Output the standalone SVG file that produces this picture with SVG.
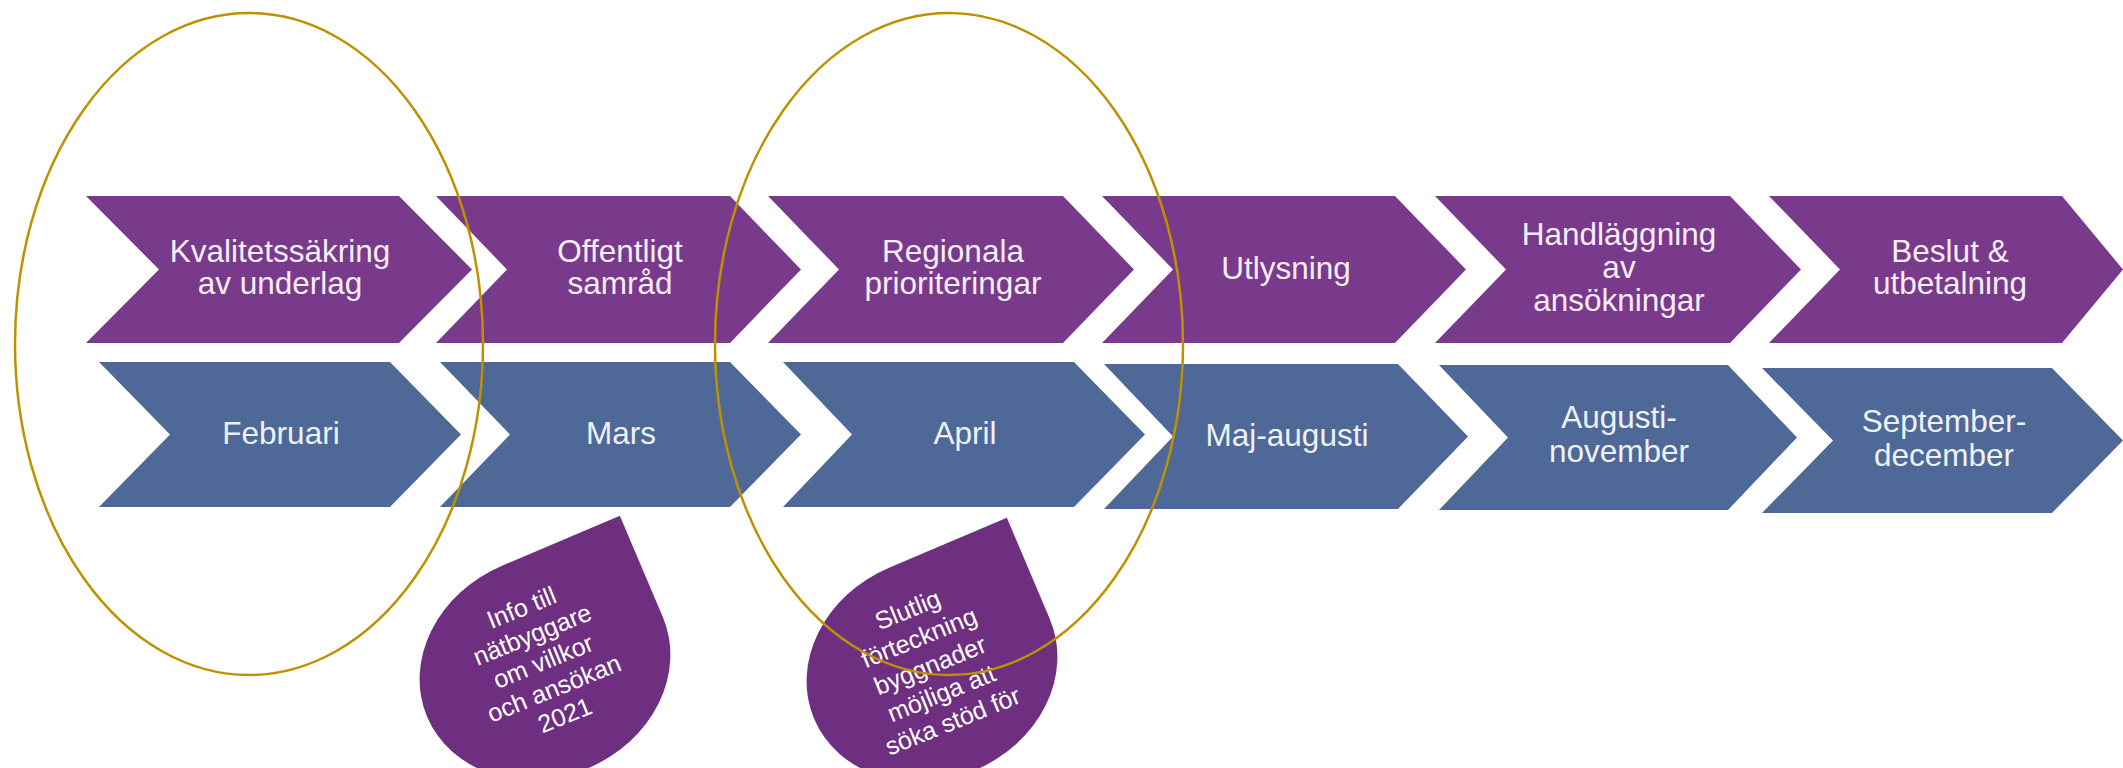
<svg xmlns="http://www.w3.org/2000/svg" width="2123" height="768" viewBox="0 0 2123 768">
<defs>
<style>
.p{fill:#7A3A8C}
.b{fill:#4E6898}
.d{fill:#6F2F80}
.t{font-family:"Liberation Sans",Arial,sans-serif;font-size:31.5px;fill:#F6EEF6;text-anchor:middle}
.tb{font-family:"Liberation Sans",Arial,sans-serif;font-size:31.5px;fill:#EEF2F8;text-anchor:middle}
.dt{font-family:"Liberation Sans",Arial,sans-serif;font-size:25px;fill:#FFFFFF;text-anchor:middle}
.ring{fill:none;stroke:#BF9000;stroke-width:2.5}
</style>
<path id="drop" d="M -128,0 A 128 110 0 0 1 0,-110 L 128,-110 L 128,0 A 128 110 0 0 1 0,110 A 128 110 0 0 1 -128,0 Z"/>
</defs>
<rect width="2123" height="768" fill="#FFFFFF"/>

<g id="phase1">
<path class="p" d="M86,196 L399,196 L472,269.5 L399,343 L86,343 L159,269.5 Z"/>
<text class="t" x="280" y="262">Kvalitetssäkring</text>
<text class="t" x="280" y="294">av underlag</text>
</g>
<g id="phase2">
<path class="p" d="M436,196 L730,196 L801,269.5 L730,343 L436,343 L507,269.5 Z"/>
<text class="t" x="620" y="262">Offentligt</text>
<text class="t" x="620" y="294">samråd</text>
</g>
<g id="phase3">
<path class="p" d="M768,196 L1063,196 L1134,269.5 L1063,343 L768,343 L839,269.5 Z"/>
<text class="t" x="953" y="262">Regionala</text>
<text class="t" x="953" y="294">prioriteringar</text>
</g>
<g id="phase4">
<path class="p" d="M1102,196 L1395,196 L1466,269.5 L1395,343 L1102,343 L1173,269.5 Z"/>
<text class="t" x="1286" y="279">Utlysning</text>
</g>
<g id="phase5">
<path class="p" d="M1435,196 L1730,196 L1801,269.5 L1730,343 L1435,343 L1506,269.5 Z"/>
<text class="t" x="1619" y="245">Handläggning</text>
<text class="t" x="1619" y="278">av</text>
<text class="t" x="1619" y="311">ansökningar</text>
</g>
<g id="phase6">
<path class="p" d="M1769,196 L2062,196 L2123,269.5 L2062,343 L1769,343 L1840,269.5 Z"/>
<text class="t" x="1950" y="262">Beslut &amp;</text>
<text class="t" x="1950" y="294">utbetalning</text>
</g>

<g id="month1">
<path class="b" d="M99,362 L390,362 L461,434.5 L390,507 L99,507 L170,434.5 Z"/>
<text class="tb" x="281" y="444">Februari</text>
</g>
<g id="month2">
<path class="b" d="M440,362 L730,362 L801,434.5 L730,507 L440,507 L510,434.5 Z"/>
<text class="tb" x="621" y="444">Mars</text>
</g>
<g id="month3">
<path class="b" d="M783,362 L1074,362 L1145,434.5 L1074,507 L783,507 L852,434.5 Z"/>
<text class="tb" x="965" y="444">April</text>
</g>
<g id="month4">
<path class="b" d="M1104,364 L1398,364 L1468,436.5 L1398,509 L1104,509 L1173,436.5 Z"/>
<text class="tb" x="1287" y="446">Maj-augusti</text>
</g>
<g id="month5">
<path class="b" d="M1439,365 L1728,365 L1797,437.5 L1728,510 L1439,510 L1508,437.5 Z"/>
<text class="tb" x="1619" y="428">Augusti-</text>
<text class="tb" x="1619" y="462">november</text>
</g>
<g id="month6">
<path class="b" d="M1762,368 L2052,368 L2123,440.5 L2052,513 L1762,513 L1833,440.5 Z"/>
<text class="tb" x="1944" y="432">September-</text>
<text class="tb" x="1944" y="466">december</text>
</g>

<g id="note1">
<use href="#drop" class="d" transform="translate(545,667) rotate(-23)"/>
<g transform="translate(543,661) rotate(-22)">
<text class="dt" x="0" y="-49">Info till</text>
<text class="dt" x="0" y="-20">nätbyggare</text>
<text class="dt" x="0" y="9">om villkor</text>
<text class="dt" x="0" y="38">och ansökan</text>
<text class="dt" x="0" y="67">2021</text>
</g>
</g>
<g id="note2">
<use href="#drop" class="d" transform="translate(932,669) rotate(-23)"/>
<g transform="translate(930,665) rotate(-22)">
<text class="dt" x="0" y="-51">Slutlig</text>
<text class="dt" x="0" y="-21">förteckning</text>
<text class="dt" x="0" y="9">byggnader</text>
<text class="dt" x="0" y="39">möjliga att</text>
<text class="dt" x="0" y="69">söka stöd för</text>
</g>
</g>

<g id="highlights">
<ellipse class="ring" cx="249" cy="344" rx="234" ry="331"/>
<ellipse class="ring" cx="949" cy="344" rx="234" ry="331"/>
</g>
</svg>
